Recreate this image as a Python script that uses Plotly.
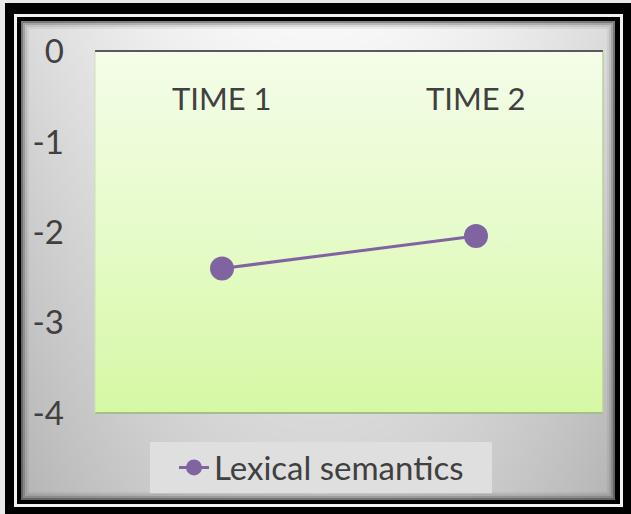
import numpy as np
import plotly.graph_objects as go

# ---- data ----
categories = ["TIME 1", "TIME 2"]
series_name = "Lexical semantics"
values = [-2.40, -2.04]
y_tick_values = [0, -1, -2, -3, -4]
y_tick_labels = ["0", "-1", "-2", "-3", "-4"]

# ---- canvas ----
W, H = 631, 514
FONT = "Lato"
TEXT = "#404040"
PURPLE = "#8064A2"


def px(x):
    return x / W


def py(y):
    return 1 - y / H


fig = go.Figure()

# Soft grey backdrop of the chart area (light at the top centre, darker at the sides/bottom)
gx = np.arange(15, 625, 10.0)
gy = np.arange(15, 510, 10.0)
XX, YY = np.meshgrid(gx, gy)
ty = (YY - 21) / 480
dx = (XX - 318) / 297
shade = 248 - 38 * ty - 30 * dx ** 2
fig.add_trace(go.Heatmap(
    x=gx, y=gy, z=shade, zmin=0, zmax=255, zsmooth="best",
    colorscale=[[0, "rgb(0,0,0)"], [1, "rgb(255,255,255)"]],
    showscale=False, hoverinfo="skip", xaxis="x", yaxis="y",
))

# Plot-area fill with a vertical green gradient
xr = [-0.5, len(categories) - 0.5]
yr = [y_tick_values[-1], y_tick_values[0]]
fig.add_trace(go.Scatter(
    x=[xr[0], xr[1], xr[1], xr[0], xr[0]],
    y=[yr[0], yr[0], yr[1], yr[1], yr[0]],
    mode="lines", line=dict(width=0), fill="toself",
    fillgradient=dict(type="vertical",
                      colorscale=[[0, "#d6f8a4"], [0.5, "#e6fbca"], [1, "#f4fde9"]]),
    hoverinfo="skip", showlegend=False, xaxis="x2", yaxis="y2",
))

# The series
fig.add_trace(go.Scatter(
    x=list(range(len(categories))), y=values, name=series_name,
    mode="lines+markers",
    line=dict(color=PURPLE, width=3),
    marker=dict(color=PURPLE, size=24),
    xaxis="x2", yaxis="y2",
))

shapes = [
    # double black frame
    dict(type="rect", xref="paper", yref="paper", x0=px(5), x1=px(W + 5), y0=py(3), y1=py(H + 5),
         fillcolor="black", line=dict(width=0), layer="below"),
    dict(type="rect", xref="paper", yref="paper", x0=px(14), x1=px(623), y0=py(14), y1=py(507),
         fillcolor="#f2f2f2", line=dict(width=0), layer="below"),
    dict(type="rect", xref="paper", yref="paper", x0=px(17), x1=px(620), y0=py(17), y1=py(504),
         fillcolor="black", line=dict(width=0), layer="below"),
]
# inner shadow along the frame
for off, a in [(1, 0.45), (3, 0.25), (5, 0.12), (7, 0.05)]:
    shapes.append(dict(type="rect", xref="paper", yref="paper",
                       x0=px(21 + off), x1=px(615 - off), y0=py(21 + off), y1=py(500 - off),
                       line=dict(color=f"rgba(0,0,0,{a})", width=2), layer="above"))
# plot-area edges
shapes += [
    dict(type="line", xref="x2 domain", yref="y2 domain", x0=0, x1=1, y0=0, y1=0,
         line=dict(color="#a4bf88", width=2), layer="above"),
    dict(type="line", xref="x2 domain", yref="y2 domain", x0=0, x1=0, y0=0, y1=1,
         line=dict(color="#cde2b3", width=1), layer="above"),
    dict(type="line", xref="x2 domain", yref="y2 domain", x0=1, x1=1, y0=0, y1=1,
         line=dict(color="#b9d09c", width=1.5), layer="above"),
    # legend panel
    dict(type="rect", xref="paper", yref="paper", x0=px(150), x1=px(492), y0=py(442), y1=py(493),
         fillcolor="#dfdfdf", line=dict(width=0), layer="above"),
]

# Category labels sit just under the zero line, inside the plot area
annotations = [
    dict(text=c, x=i, xref="x2", y=py(98), yref="paper", yanchor="middle",
         showarrow=False, font=dict(size=31, color=TEXT, family=FONT))
    for i, c in enumerate(categories)
]

fig.update_layout(
    width=W, height=H,
    margin=dict(l=0, r=0, t=0, b=0, autoexpand=False),
    paper_bgcolor="#e9e9e9",
    plot_bgcolor="rgba(0,0,0,0)",
    shapes=shapes,
    annotations=annotations,
    font=dict(family=FONT, color=TEXT),
    showlegend=True,
    legend=dict(
        x=px(174), xanchor="left", y=py(467.5), yanchor="middle",
        bgcolor="rgba(0,0,0,0)", font=dict(size=33, color=TEXT, family=FONT),
        itemclick=False,
    ),
    xaxis=dict(domain=[px(21), px(615)], range=[615, 21], visible=False, fixedrange=True),
    yaxis=dict(domain=[py(500), py(21)], range=[500, 21], visible=False, fixedrange=True),
    xaxis2=dict(
        domain=[px(95), px(603)], range=xr, anchor="y2", side="top",
        showticklabels=False, ticks="",
        showline=True, linecolor="#595959", linewidth=2,
        showgrid=False, zeroline=False, fixedrange=True,
    ),
    yaxis2=dict(
        domain=[py(413), py(51.7)], range=yr, anchor="x2",
        tickvals=y_tick_values, ticktext=y_tick_labels, ticks="",
        ticklabelstandoff=30, tickfont=dict(size=33, color=TEXT),
        showline=False, showgrid=False, zeroline=False, fixedrange=True,
    ),
)

fig.write_html("out.html")
